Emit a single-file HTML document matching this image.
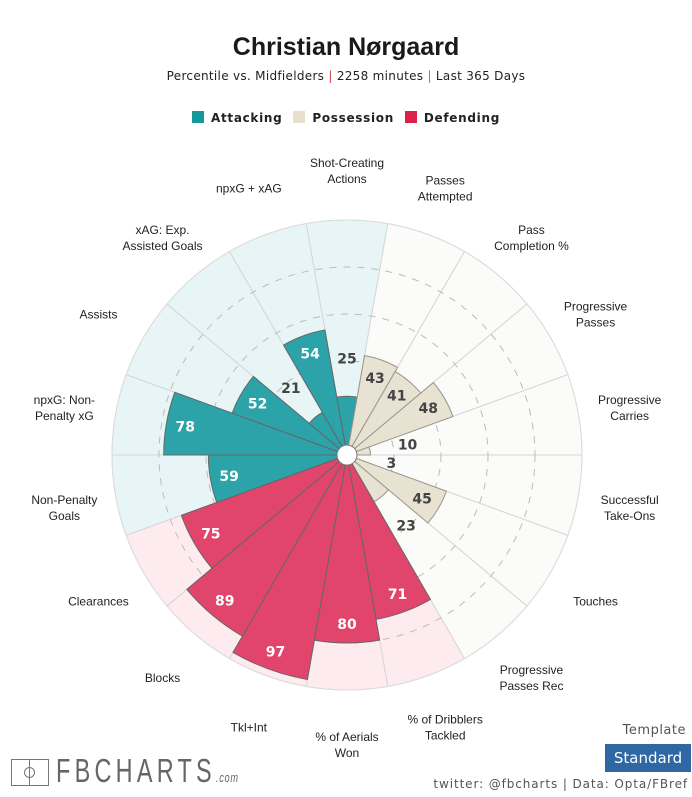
<!DOCTYPE html>
<html><head><meta charset="utf-8">
<style>
body{margin:0;background:#fff;width:692px;height:797px;overflow:hidden;font-family:"Liberation Sans",Arial,sans-serif;position:relative}
.t{position:absolute;left:0;width:692px;text-align:center}
</style></head><body>
<div class="t" style="top:33px;font-size:25px;font-weight:bold;color:#1a1a1a">Christian Nørgaard</div>
<div class="t" style="top:69px;font-size:12px;font-family:'DejaVu Sans',sans-serif;color:#222;letter-spacing:0.3px">Percentile vs. Midfielders <span style="color:#c44">|</span> 2258 minutes <span style="color:#49c">|</span> Last 365 Days</div>
<div class="t" style="top:111px;font-size:12px;font-weight:bold;font-family:'DejaVu Sans',sans-serif;color:#222;letter-spacing:0.7px">
<span><span style="display:inline-block;width:12px;height:12px;background:#13999c;vertical-align:-1px;margin-right:7px"></span>Attacking</span>
<span style="margin-left:6px"><span style="display:inline-block;width:12px;height:12px;background:#e8e0cd;vertical-align:-1px;margin-right:7px"></span>Possession</span>
<span style="margin-left:6px"><span style="display:inline-block;width:12px;height:12px;background:#dd1f4b;vertical-align:-1px;margin-right:7px"></span>Defending</span>
</div>
<svg id="chart" width="692" height="797" style="position:absolute;left:0;top:0" xmlns="http://www.w3.org/2000/svg"></svg>
<div style="position:absolute;left:11px;top:759px;width:36px;height:25px;border:1px solid #777"><div style="position:absolute;left:17px;top:0;width:1px;height:25px;background:#777"></div><div style="position:absolute;left:12px;top:7px;width:9px;height:9px;border:1px solid #777;border-radius:50%"></div></div>
<div style="position:absolute;left:56px;top:752px;font-size:33px;color:#666;letter-spacing:6px;transform:scaleX(0.71);transform-origin:left">FBCHARTS<span style="font-size:13px;letter-spacing:1px;font-style:italic">.com</span></div>
<div style="position:absolute;right:6px;top:723px;font-size:13px;font-family:'DejaVu Sans',sans-serif;color:#555;letter-spacing:0.5px">Template</div>
<div style="position:absolute;left:605px;top:744px;width:86px;height:28px;background:#2e67a3;color:#fff;font-size:15px;font-family:'DejaVu Sans',sans-serif;line-height:28px;text-align:center">Standard</div>
<div style="position:absolute;right:4px;top:777px;font-size:12px;font-family:'DejaVu Sans',sans-serif;color:#555;letter-spacing:0.9px">twitter: @fbcharts | Data: Opta/FBref</div>
<script>
const categories=["Shot-Creating\nActions","Passes\nAttempted","Pass\nCompletion %","Progressive\nPasses","Progressive\nCarries","Successful\nTake-Ons","Touches","Progressive\nPasses Rec","% of Dribblers\nTackled","% of Aerials\nWon","Tkl+Int","Blocks","Clearances","Non-Penalty\nGoals","npxG: Non-\nPenalty xG","Assists","xAG: Exp.\nAssisted Goals","npxG + xAG"];
const values=[25,43,41,48,10,3,45,23,71,80,97,89,75,59,78,52,21,54];
const groups=["att","pos","pos","pos","pos","pos","pos","pos","def","def","def","def","def","att","att","att","att","att"];
const ringTicks=[20,40,60,80];
const CX=347,CY=455,R=235;
const fillC={att:"#2ba3a9",pos:"#e8e2d2",def:"#e2456b"};
const bgC={att:"#e8f5f6",pos:"#fbfbf9",def:"#fdebf0"};
const NS="http://www.w3.org/2000/svg";
const svg=document.getElementById('chart');
function r(v){return v/100*R;}
function pt(rad,deg){const a=deg*Math.PI/180;return [CX+rad*Math.sin(a),CY-rad*Math.cos(a)];}
function wedge(rad,a0,a1){const p0=pt(rad,a0),p1=pt(rad,a1);return `M${CX},${CY}L${p0[0]},${p0[1]}A${rad},${rad} 0 0 1 ${p1[0]},${p1[1]}Z`;}
function mk(tag,attrs){const e=document.createElementNS(NS,tag);for(const k in attrs)e.setAttribute(k,attrs[k]);svg.appendChild(e);return e;}
const n=categories.length,step=360/n;
categories.forEach((c,i)=>{const a=i*step;
 const e=mk('path',{d:wedge(R,a-step/2,a+step/2),fill:bgC[groups[i]],stroke:'#d6d6d6','stroke-width':1});
 
 });
ringTicks.forEach(t=>{const e=mk('circle',{cx:CX,cy:CY,r:r(t),fill:'none',stroke:'#bbb','stroke-dasharray':'7 7','stroke-width':1});
 
 });
values.forEach((v,i)=>{const a=i*step;
 const e=mk('path',{d:wedge(r(v),a-step/2,a+step/2),fill:fillC[groups[i]],stroke:groups[i]=='pos'?'#9a958a':'#666','stroke-width':1});
 
 });
mk('circle',{cx:CX,cy:CY,r:R,fill:'none',stroke:'#ddd','stroke-width':1});
const hole=mk('circle',{cx:CX,cy:CY,r:10,fill:'#fff',stroke:'#777','stroke-width':1});


values.forEach((v,i)=>{const a=i*step;const big=v>=30;
 const p=pt(big?r(v)-19:r(v)+38,a);
 const e=mk('text',{x:p[0],y:p[1]+5,'text-anchor':'middle','font-size':14,'font-weight':'bold','font-family':"'DejaVu Sans',sans-serif",fill:big&&groups[i]!='pos'?'#fff':'#444'});
 e.textContent=v;
 
 });
categories.forEach((c,i)=>{const a=i*step;const p=pt(287,a);const lines=c.split("\n");
 const e=mk('text',{x:p[0],y:p[1]+7-(lines.length-1)*8,'text-anchor':'middle','font-size':12,fill:'#222','font-family':"'Liberation Sans',Arial,sans-serif"});
 
 
 lines.forEach((l,j)=>{const ts=document.createElementNS(NS,'tspan');ts.setAttribute('x',p[0]);ts.setAttribute('dy',j?16:0);ts.textContent=l;e.appendChild(ts);});});
</script>
</body></html>
